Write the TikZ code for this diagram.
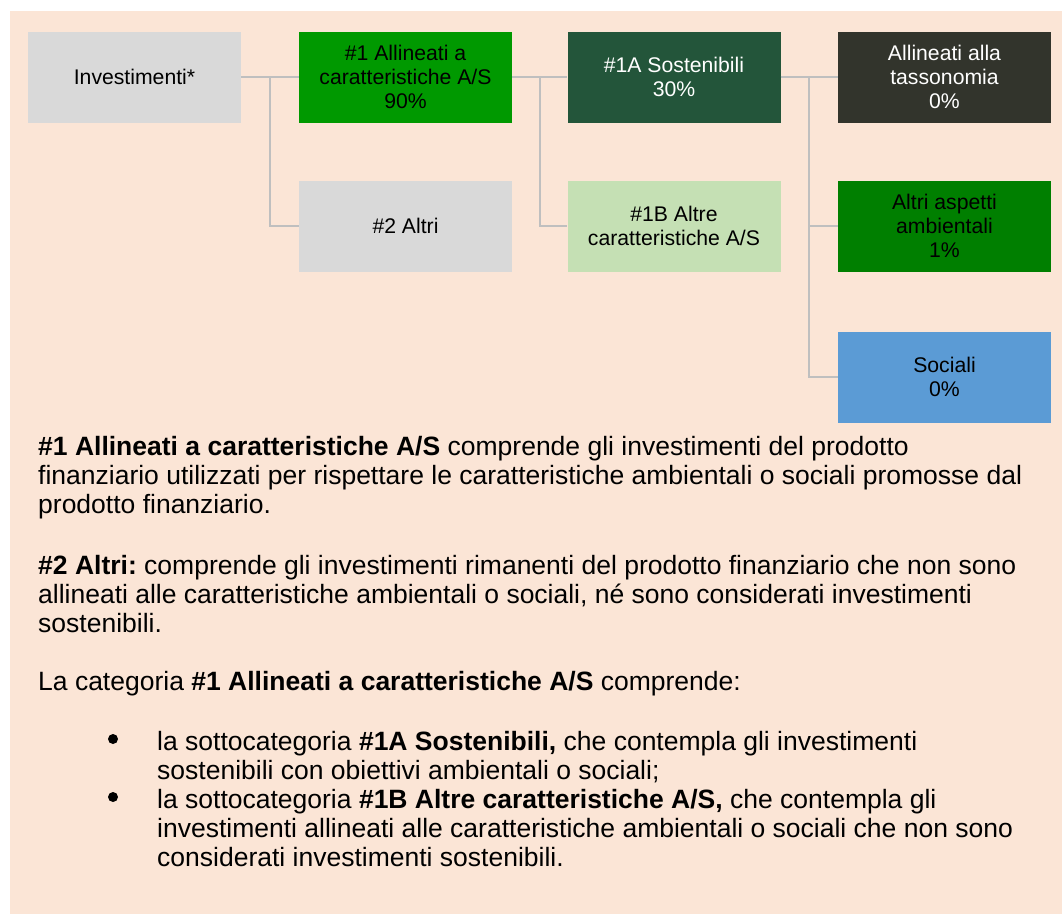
\documentclass[tikz,border=0pt]{standalone}
\usepackage{fontspec}
\setmainfont{Liberation Sans}
\usetikzlibrary{calc}
\frenchspacing
\definecolor{bgpeach}{HTML}{FBE5D6}
\definecolor{boxgray}{HTML}{D9D9D9}
\definecolor{greenA}{HTML}{009900}
\definecolor{darkgreen}{HTML}{23553A}
\definecolor{lightgreen}{HTML}{C5E0B4}
\definecolor{taxdark}{HTML}{32342C}
\definecolor{greenB}{HTML}{007F00}
\definecolor{socblue}{HTML}{5B9BD5}
\definecolor{linegray}{HTML}{BFBFBF}
\begin{document}
\begin{tikzpicture}[x=1pt,y=-1pt,
  catbox/.style={minimum width=213pt,minimum height=91pt,inner sep=2pt,align=center,
    font=\fontsize{21.2}{24}\selectfont},
  conn/.style={draw=linegray,line width=1.6pt},
  para/.style={anchor=north west,inner sep=0pt,align=left,
    font=\fontsize{26.5}{29.4}\selectfont},
  bulletdot/.style={circle,fill=black,inner sep=0pt,minimum size=10pt}
]
\useasboundingbox (0,0) rectangle (1062,914);
\fill[bgpeach] (10,11) rectangle (1062,914);

\node[catbox,fill=boxgray] (inv) at (134.5,77) {Investimenti*};
\node[catbox,fill=greenA] (a1) at (405.5,77) {\#1 Allineati a\\caratteristiche A/S\\90\%};
\node[catbox,fill=boxgray] (a2) at (405.5,226) {\#2 Altri};
\node[catbox,fill=darkgreen,text=white] (s1a) at (674,77) {\#1A Sostenibili\\30\%};
\node[catbox,fill=lightgreen] (s1b) at (674,226) {\#1B Altre\\caratteristiche A/S};
\node[catbox,fill=taxdark,text=white] (tax) at (944.5,77) {Allineati alla\\tassonomia\\0\%};
\node[catbox,fill=greenB] (alt) at (944.5,226) {Altri aspetti\\ambientali\\1\%};
\node[catbox,fill=socblue] (soc) at (944.5,377) {Sociali\\0\%};

\draw[conn] (inv.east) -- (a1.west);
\draw[conn] ($(inv.east)!0.5!(a1.west)$) |- (a2.west);
\draw[conn] (a1.east) -- (s1a.west);
\draw[conn] ($(a1.east)!0.5!(s1a.west)$) |- (s1b.west);
\draw[conn] (s1a.east) -- (tax.west);
\draw[conn] ($(s1a.east)!0.5!(tax.west)$) |- (alt.west);
\draw[conn] ($(s1a.east)!0.5!(tax.west)$) |- (soc.west);

\node[para] (p1) at (38,435.7) {\textbf{\#1 Allineati a caratteristiche A/S} comprende gli investimenti del prodotto\\finanziario utilizzati per rispettare le caratteristiche ambientali o sociali promosse dal\\prodotto finanziario.};
\node[para] (p2) at (38,554.7) {\textbf{\#2 Altri:} comprende gli investimenti rimanenti del prodotto finanziario che non sono\\allineati alle caratteristiche ambientali o sociali, né sono considerati investimenti\\sostenibili.};
\node[para] (p3) at (38,670.7) {La categoria \textbf{\#1 Allineati a caratteristiche A/S} comprende:};

\node[bulletdot] (b1) at (113,739) {};
\node[para] (t1) at (157,730.7) {la sottocategoria \textbf{\#1A Sostenibili,} che contempla gli investimenti\\sostenibili con obiettivi ambientali o sociali;};
\node[bulletdot] (b2) at (113,797) {};
\node[para] (t2) at (157,788.7) {la sottocategoria \textbf{\#1B Altre caratteristiche A/S,} che contempla gli\\investimenti allineati alle caratteristiche ambientali o sociali che non sono\\considerati investimenti sostenibili.};
\end{tikzpicture}
\end{document}
